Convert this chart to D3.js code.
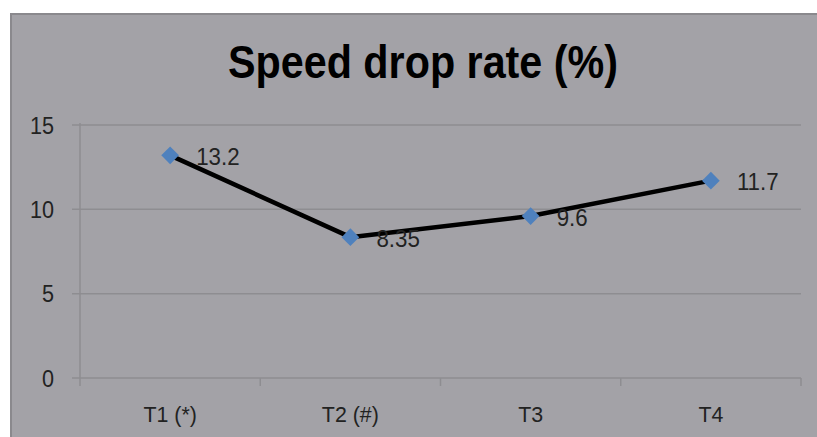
<!DOCTYPE html>
<html><head><meta charset="utf-8">
<script src="https://cdn.jsdelivr.net/npm/d3@7"></script>
<style>body{margin:0;background:#fff;}svg{display:block;}</style>
</head><body><svg id="c" width="817" height="437"></svg>
<script>
const categories = ["T1 (*)", "T2 (#)", "T3", "T4"];
const values = [13.2, 8.35, 9.6, 11.7];
const yTicks = [0, 5, 10, 15];
const title = "Speed drop rate (%)";

const svg = d3.select("#c");
svg.append("rect").attr("x", 11).attr("y", 14).attr("width", 820).attr("height", 440)
  .attr("fill", "#a3a2a7").attr("stroke", "#8a898d").attr("stroke-width", 2);

const x0 = 80, x1 = 801, yTop = 125, yBot = 378;
const x = d3.scaleBand().domain(categories).range([x0, x1]);
const y = d3.scaleLinear().domain([0, 15]).range([yBot, yTop]);
const FONT = "'Liberation Sans', Arial, sans-serif";

svg.append("text").attr("x", 423).attr("y", 78).attr("text-anchor", "middle")
  .attr("font-family", FONT)
  .attr("font-weight", "bold").attr("font-size", 46).attr("fill", "#000")
  .attr("textLength", 390).attr("lengthAdjust", "spacingAndGlyphs").text(title);

// grid
svg.append("g").selectAll("line").data(yTicks).join("line")
  .attr("x1", x0 - 8).attr("x2", x1).attr("y1", d => y(d)).attr("y2", d => y(d))
  .attr("stroke", "#8e8d91").attr("stroke-width", 1.5);

// y axis line
svg.append("line").attr("x1", x0).attr("x2", x0).attr("y1", yTop - 2).attr("y2", yBot + 8)
  .attr("stroke", "#8e8d91").attr("stroke-width", 1.5);
// y tick labels
svg.append("g").selectAll("text").data(yTicks).join("text")
  .attr("transform", d => `translate(54,${y(d)}) scale(0.9,1)`)
  .attr("text-anchor", "end").attr("dy", "0.36em")
  .attr("font-family", FONT).attr("font-size", 24).attr("fill", "#222")
  .text(d => d);

// x axis ticks
const bounds = categories.map(c => x(c)).concat([x1]);
svg.append("g").selectAll("line").data(bounds.slice(1)).join("line")
  .attr("x1", d => d).attr("x2", d => d).attr("y1", yBot).attr("y2", yBot + 8)
  .attr("stroke", "#8e8d91").attr("stroke-width", 1.5);
svg.append("g").selectAll("text").data(categories).join("text")
  .attr("transform", d => `translate(${x(d) + x.bandwidth() / 2},422) scale(0.93,1)`)
  .attr("text-anchor", "middle")
  .attr("font-family", FONT).attr("font-size", 23).attr("fill", "#222")
  .text(d => d);

const pts = categories.map((c, i) => [x(c) + x.bandwidth() / 2, y(values[i])]);
svg.append("path").attr("d", d3.line()(pts)).attr("fill", "none")
  .attr("stroke", "#000").attr("stroke-width", 4.5).attr("stroke-linejoin", "round");
svg.append("g").selectAll("path").data(pts).join("path")
  .attr("transform", d => `translate(${d[0]},${d[1]})`)
  .attr("d", d3.symbol(d3.symbolDiamond2, 200)).attr("fill", "#4f81bd");
svg.append("g").selectAll("text").data(pts).join("text")
  .attr("transform", d => `translate(${d[0] + 26},${d[1] + 1}) scale(0.93,1)`)
  .attr("dy", "0.36em")
  .attr("font-family", FONT).attr("font-size", 24)
  .attr("fill", "#222").text((d, i) => values[i]);
</script></body></html>
